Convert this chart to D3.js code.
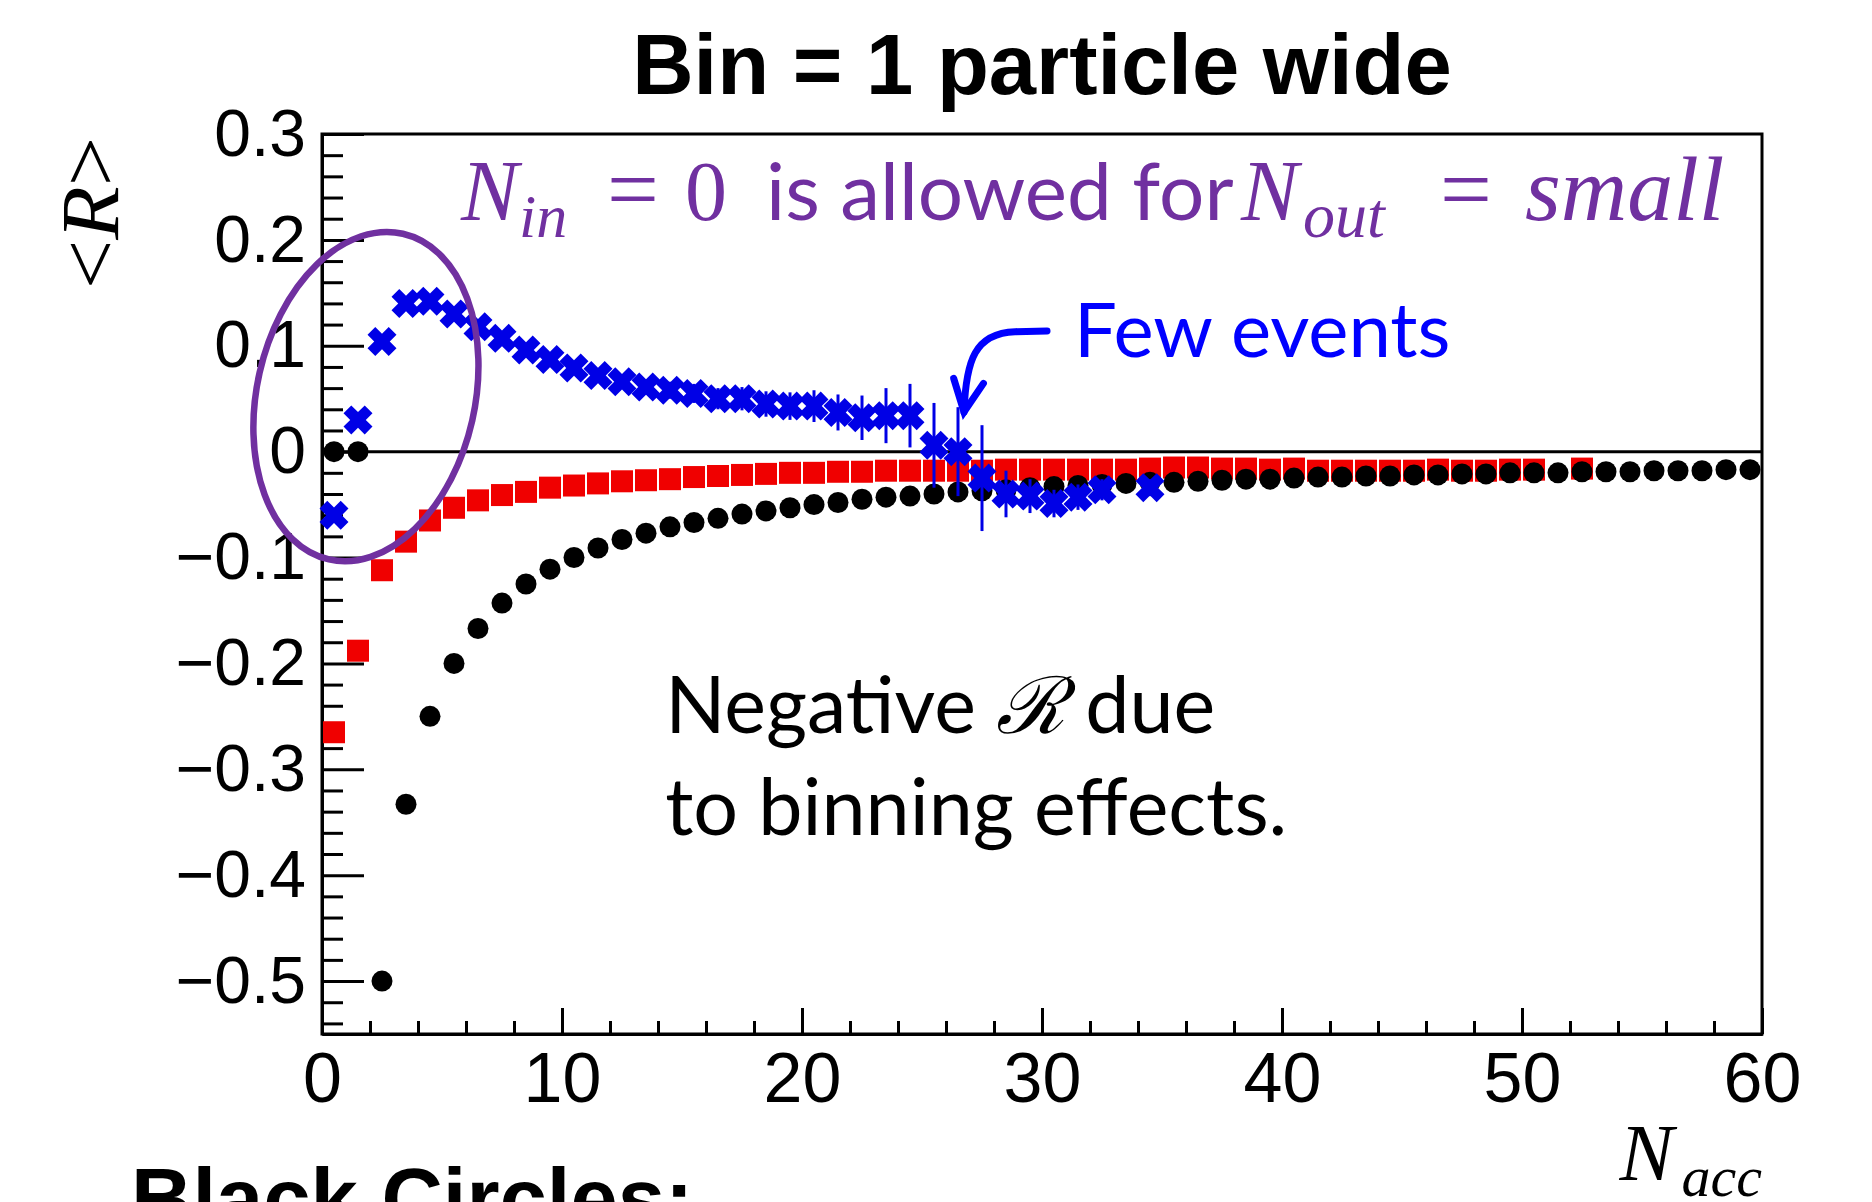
<!doctype html>
<html lang="en">
<head>
  <meta charset="utf-8">
  <title>Bin = 1 particle wide</title>
  <script type="text/javascript" src="https://cdnjs.cloudflare.com/ajax/libs/d3/7.8.5/d3.min.js"></script>
  <style>
    body { margin: 0; background: #fff; }
  </style>
</head>

<body>
	<svg width="1872" height="1202" id="svg"></svg>
</body>

<script type="text/javascript">

	// bin centres, bins are 1 particle wide
	var n_acc = [0.5, 1.5, 2.5, 3.5, 4.5, 5.5, 6.5, 7.5, 8.5, 9.5,
		10.5, 11.5, 12.5, 13.5, 14.5, 15.5, 16.5, 17.5, 18.5, 19.5,
		20.5, 21.5, 22.5, 23.5, 24.5, 25.5, 26.5, 27.5, 28.5, 29.5,
		30.5, 31.5, 32.5, 33.5, 34.5, 35.5, 36.5, 37.5, 38.5, 39.5,
		40.5, 41.5, 42.5, 43.5, 44.5, 45.5, 46.5, 47.5, 48.5, 49.5,
		50.5, 51.5, 52.5, 53.5, 54.5, 55.5, 56.5, 57.5, 58.5, 59.5];

	var black_circles = [0, 0, -0.500, -0.333, -0.250, -0.200, -0.167, -0.143, -0.125, -0.111,
		-0.100, -0.091, -0.083, -0.077, -0.071, -0.067, -0.063, -0.059, -0.056, -0.053,
		-0.050, -0.048, -0.045, -0.043, -0.042, -0.040, -0.038, -0.037, -0.036, -0.034,
		-0.033, -0.032, -0.031, -0.030, -0.029, -0.029, -0.028, -0.027, -0.026, -0.026,
		-0.025, -0.024, -0.024, -0.023, -0.023, -0.022, -0.022, -0.021, -0.021, -0.020,
		-0.020, -0.020, -0.019, -0.019, -0.019, -0.018, -0.018, -0.018, -0.017, -0.017];

	var red_squares = [-0.265, -0.188, -0.112, -0.085, -0.065, -0.053, -0.046, -0.041, -0.038, -0.034,
		-0.032, -0.030, -0.028, -0.027, -0.026, -0.024, -0.023, -0.022, -0.021, -0.020,
		-0.020, -0.019, -0.019, -0.018, -0.018, -0.018, -0.018, -0.018, -0.017, -0.017,
		-0.017, -0.017, -0.017, -0.017, -0.016, -0.015, -0.015, -0.016, -0.016, -0.017,
		-0.016, -0.018, -0.018, -0.018, -0.018, -0.018, -0.017, -0.018, -0.018, -0.017,
		-0.017, null, -0.016];

	var blue_crosses = [-0.060, 0.030, 0.104, 0.140, 0.142, 0.130, 0.118, 0.107, 0.096, 0.087,
		0.079, 0.072, 0.066, 0.061, 0.058, 0.055, 0.050, 0.050, 0.045, 0.043,
		0.043, 0.037, 0.032, 0.034, 0.034, 0.006, 0.000, -0.025, -0.040, -0.042,
		-0.049, -0.043, -0.036, null, -0.034];

	var blue_errors = [0.003, 0.003, 0.003, 0.003, 0.003, 0.003, 0.004, 0.004, 0.004, 0.005,
		0.005, 0.006, 0.006, 0.007, 0.008, 0.009, 0.010, 0.011, 0.012, 0.013,
		0.015, 0.017, 0.021, 0.026, 0.030, 0.040, 0.042, 0.050, 0.022, 0.016,
		0.013, 0.012, 0.010, null, 0.008];

	var x_ticks = [0, 10, 20, 30, 40, 50, 60];
	var x_tick_labels = ['0', '10', '20', '30', '40', '50', '60'];
	var y_ticks = [-0.5, -0.4, -0.3, -0.2, -0.1, 0, 0.1, 0.2, 0.3];
	var y_tick_labels = ['\u22120.5', '\u22120.4', '\u22120.3', '\u22120.2', '\u22120.1', '0', '0.1', '0.2', '0.3'];

	var sans = "'Liberation Sans', Arial, Helvetica, sans-serif";
	var serif = "'Liberation Serif', 'Times New Roman', serif";
	var calibri = "Lato, 'Open Sans', sans-serif";

	var svg = d3.select('#svg');

	var x = d3.scaleLinear()
				.domain([0, 60])
				.range([322, 1762]);

	var y = d3.scaleLinear()
				.domain([-0.55, 0.3])
				.range([1034, 134]);

	function points(values) {
		return values.map(function(v, i) {
			return {n: n_acc[i], v: v, i: i};
		}).filter(function(d) { return d.v !== null; });
	}

	// minor ticks
	var x_minor = d3.range(0, 61, 2).filter(function(v) { return v % 10 !== 0; });
	var y_minor = d3.range(-27, 15).filter(function(k) { return k % 5 !== 0; })
					.map(function(k) { return k * 0.02; });

	// axes, ticks point into the frame like ROOT
	var xAxis = svg.append('g')
		.attr('transform', 'translate(0,' + y(-0.55) + ')')
		.call(d3.axisBottom(x)
			.tickValues(x_ticks)
			.tickSizeInner(-26)
			.tickSizeOuter(0)
			.tickPadding(18)
			.tickFormat(function(d, i) { return x_tick_labels[i]; }));

	svg.append('g')
		.attr('transform', 'translate(0,' + y(-0.55) + ')')
		.call(d3.axisBottom(x)
			.tickValues(x_minor)
			.tickSizeInner(-13)
			.tickSizeOuter(0)
			.tickFormat(''));

	var yAxis = svg.append('g')
		.attr('transform', 'translate(' + x(0) + ',0)')
		.call(d3.axisLeft(y)
			.tickValues(y_ticks)
			.tickSizeInner(-42)
			.tickSizeOuter(0)
			.tickPadding(16)
			.tickFormat(function(d, i) { return y_tick_labels[i]; }));

	svg.append('g')
		.attr('transform', 'translate(' + x(0) + ',0)')
		.call(d3.axisLeft(y)
			.tickValues(y_minor)
			.tickSizeInner(-21)
			.tickSizeOuter(0)
			.tickFormat(''));

	svg.selectAll('.tick line').attr('stroke', '#000').attr('stroke-width', 3);
	svg.selectAll('.domain').attr('stroke', '#000').attr('stroke-width', 3);

	xAxis.selectAll('text')
		.attr('font-family', sans)
		.attr('font-size', 70)
		.attr('fill', '#000');

	yAxis.selectAll('text')
		.attr('font-family', sans)
		.attr('font-size', 66)
		.attr('fill', '#000');

	// frame
	svg.append('rect')
		.attr('x', x(0))
		.attr('y', y(0.3))
		.attr('width', x(60) - x(0))
		.attr('height', y(-0.55) - y(0.3))
		.attr('fill', 'none')
		.attr('stroke', '#000')
		.attr('stroke-width', 3);

	// zero line
	svg.append('line')
		.attr('x1', x(0))
		.attr('x2', x(60))
		.attr('y1', y(0))
		.attr('y2', y(0))
		.attr('stroke', '#000')
		.attr('stroke-width', 3);

	// red squares
	svg.append('g')
		.selectAll('rect')
		.data(points(red_squares))
		.enter()
		.append('rect')
		.attr('x', function(d) { return x(d.n) - 11; })
		.attr('y', function(d) { return y(d.v) - 11; })
		.attr('width', 22)
		.attr('height', 22)
		.attr('fill', '#f00000');

	// black circles
	svg.append('g')
		.selectAll('circle')
		.data(points(black_circles))
		.enter()
		.append('circle')
		.attr('cx', function(d) { return x(d.n); })
		.attr('cy', function(d) { return y(d.v); })
		.attr('r', 10.5)
		.attr('fill', '#000');

	// blue error bars
	svg.append('g')
		.selectAll('line')
		.data(points(blue_crosses))
		.enter()
		.append('line')
		.attr('x1', function(d) { return x(d.n); })
		.attr('x2', function(d) { return x(d.n); })
		.attr('y1', function(d) { return y(d.v + blue_errors[d.i]); })
		.attr('y2', function(d) { return y(d.v - blue_errors[d.i]); })
		.attr('stroke', '#0000e6')
		.attr('stroke-width', 3);

	// blue crosses
	var s = 15, h = 5.5;
	var cross = 'M' + (-h) + ',' + (-s) + 'L' + h + ',' + (-s) + 'L' + h + ',' + (-h) + 'L' + s + ',' + (-h) +
		'L' + s + ',' + h + 'L' + h + ',' + h + 'L' + h + ',' + s + 'L' + (-h) + ',' + s +
		'L' + (-h) + ',' + h + 'L' + (-s) + ',' + h + 'L' + (-s) + ',' + (-h) + 'L' + (-h) + ',' + (-h) + 'Z';

	svg.append('g')
		.selectAll('path')
		.data(points(blue_crosses))
		.enter()
		.append('path')
		.attr('d', cross)
		.attr('transform', function(d) {
			return 'translate(' + x(d.n) + ',' + y(d.v) + ') rotate(45)';
		})
		.attr('fill', '#0000e6');

	// title and axis titles
	svg.append('text')
		.attr('x', 1042)
		.attr('y', 94)
		.attr('text-anchor', 'middle')
		.attr('font-family', sans)
		.attr('font-weight', 'bold')
		.attr('font-size', 85)
		.text('Bin = 1 particle wide');

	var ytitle = svg.append('text')
		.attr('transform', 'translate(118,' + (y(0.3) + 3) + ') rotate(-90)')
		.attr('text-anchor', 'end')
		.attr('font-family', serif)
		.attr('font-size', 82)
		.attr('textLength', 152)
		.attr('lengthAdjust', 'spacingAndGlyphs');
	ytitle.append('tspan').text('<');
	ytitle.append('tspan').attr('font-style', 'italic').text('R');
	ytitle.append('tspan').text('>');

	var xtitle = svg.append('text')
		.attr('x', x(60))
		.attr('y', 1180)
		.attr('text-anchor', 'end')
		.attr('font-family', serif)
		.attr('font-style', 'italic');
	xtitle.append('tspan').attr('font-size', 81).text('N');
	xtitle.append('tspan').attr('font-size', 58).attr('dx', 8).attr('dy', 16).text('acc');

	svg.append('text')
		.attr('x', 131)
		.attr('y', 1228)
		.attr('font-family', sans)
		.attr('font-weight', 'bold')
		.attr('font-size', 85)
		.text('Black Circles:');

	// annotations
	var purple = '#7030a0';

	svg.append('ellipse')
		.attr('transform', 'translate(' + x(1.83) + ',' + y(0.052) + ') rotate(12.8)')
		.attr('rx', 109)
		.attr('ry', 167)
		.attr('fill', 'none')
		.attr('stroke', purple)
		.attr('stroke-width', 6.5);

	var note = svg.append('text')
		.attr('x', x(5.79))
		.attr('y', y(0.2187))
		.attr('fill', purple)
		.attr('font-size', 80);
	var nx = x(5.79);
	note.append('tspan').attr('x', nx).attr('font-family', serif).attr('font-style', 'italic').attr('font-size', 86).text('N');
	note.append('tspan').attr('x', nx + 58).attr('dy', 17).attr('font-family', serif).attr('font-style', 'italic').attr('font-size', 62).text('in');
	note.append('tspan').attr('x', nx + 146).attr('dy', -17).attr('font-family', serif).attr('font-size', 92).text('=');
	note.append('tspan').attr('x', nx + 224).attr('font-family', serif).attr('font-size', 84).text('0');
	note.append('tspan').attr('x', nx + 305).attr('font-family', calibri).text('is allowed for');
	note.append('tspan').attr('x', nx + 780).attr('font-family', serif).attr('font-style', 'italic').attr('font-size', 86).text('N');
	note.append('tspan').attr('x', nx + 842).attr('dy', 17).attr('font-family', serif).attr('font-style', 'italic').attr('font-size', 64).text('out');
	note.append('tspan').attr('x', nx + 979).attr('dy', -17).attr('font-family', serif).attr('font-size', 92).text('=');
	note.append('tspan').attr('x', nx + 1064).attr('font-family', serif).attr('font-style', 'italic').attr('font-size', 92).text('small');

	svg.append('text')
		.attr('x', x(31.33))
		.attr('y', y(0.0896))
		.attr('fill', '#0000ff')
		.attr('font-family', calibri)
		.attr('font-size', 76)
		.text('Few events');

	var arrow = d3.path();
	arrow.moveTo(x(30.21), y(0.1139));
	arrow.lineTo(x(28.88), y(0.1133));
	arrow.bezierCurveTo(x(27.21), y(0.112), x(26.83), y(0.0865), x(26.75), y(0.0374));
	svg.append('path')
		.attr('d', arrow.toString())
		.attr('fill', 'none')
		.attr('stroke', '#0000ff')
		.attr('stroke-width', 7)
		.attr('stroke-linecap', 'round');

	svg.append('path')
		.attr('d', d3.line()([[x(26.32), y(0.0692)], [x(26.75), y(0.0374)], [x(27.56), y(0.0645)]]))
		.attr('fill', 'none')
		.attr('stroke', '#0000ff')
		.attr('stroke-width', 7)
		.attr('stroke-linecap', 'round')
		.attr('stroke-linejoin', 'miter');

	var neg = svg.append('text')
		.attr('font-family', calibri)
		.attr('font-size', 79)
		.attr('fill', '#000');
	neg.append('tspan').attr('x', x(14.3)).attr('y', y(-0.2658)).text('Negative ');
	neg.append('tspan').attr('font-family', "'DejaVu Serif', serif").attr('font-style', 'italic').text('\u211B');
	neg.append('tspan').text(' due');
	neg.append('tspan').attr('x', x(14.3)).attr('y', y(-0.362)).text('to binning effects.');

</script>
</html>
